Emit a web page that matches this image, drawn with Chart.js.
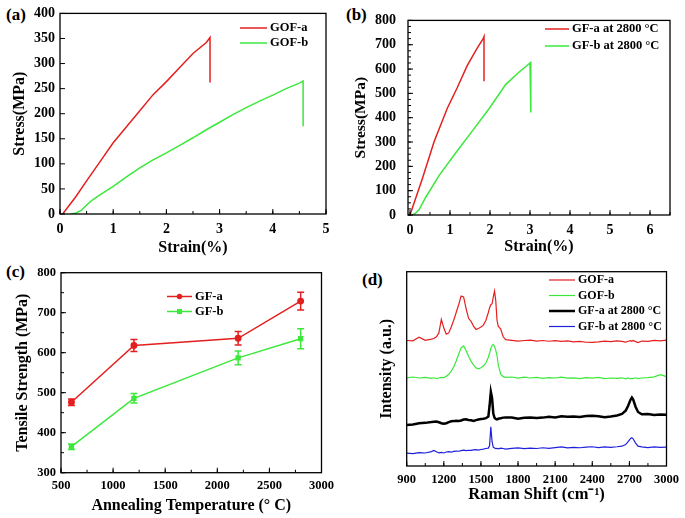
<!DOCTYPE html>
<html>
<head>
<meta charset="utf-8">
<script src="https://cdn.jsdelivr.net/npm/chart.js@4.4.1/dist/chart.umd.min.js"></script>
<style>
  body { margin: 0; background: #fff; width: 685px; height: 518px; position: relative; overflow: hidden; }
  canvas { position: absolute; }
  .tag { position: absolute; font: bold 17px "Liberation Serif", serif; color: #000; }
</style>
</head>
<body>

<div class="tag" style="left:6px;top:5px">(a)</div>
<div class="tag" style="left:346px;top:5px">(b)</div>
<div class="tag" style="left:6px;top:262px">(c)</div>
<div class="tag" style="left:362px;top:270px">(d)</div>

<canvas id="chartA" width="340" height="262" style="left:0;top:0"></canvas>
<canvas id="chartB" width="345" height="262" style="left:340px;top:0"></canvas>
<canvas id="chartC" width="340" height="263" style="left:0;top:255px"></canvas>
<canvas id="chartD" width="345" height="263" style="left:340px;top:255px"></canvas>

<script>
// ---------- (a) GO fibres ----------
const strainGofA = [0.05, 0.3, 0.5, 0.75, 1.0, 1.25, 1.5, 1.75, 2.0, 2.25, 2.5, 2.75, 2.82, 2.82];
const stressGofA = [0, 35, 66, 104, 142, 174, 206, 238, 264, 292, 320, 342, 352, 262];
const strainGofB = [0.2, 0.3, 0.4, 0.5, 0.6, 0.75, 1.0, 1.25, 1.5, 1.75, 2.0, 2.25, 2.5, 2.75, 3.0, 3.25, 3.5, 3.75, 4.0, 4.25, 4.5, 4.57, 4.57];
const stressGofB = [0, 2, 7, 18, 27, 38, 55, 74, 92, 108, 122, 137, 152, 168, 183, 198, 212, 225, 237, 250, 261, 265, 175];
const ticksStrainA = [0, 1, 2, 3, 4, 5];
const ticksStressA = [0, 50, 100, 150, 200, 250, 300, 350, 400];

// ---------- (b) GF at 2800 C ----------
const strainGfA = [0, 0.31, 0.6, 0.93, 1.18, 1.43, 1.68, 1.83, 1.85, 1.85];
const stressGfA = [0, 150, 300, 438, 523, 614, 686, 725, 733, 550];
const strainGfB = [0.05, 0.12, 0.23, 0.39, 0.73, 1.14, 1.56, 1.98, 2.39, 2.73, 3.0, 3.02, 3.02];
const stressGfB = [0, 5, 22, 72, 163, 255, 346, 438, 536, 588, 625, 631, 421];
const ticksStrainB = [0, 1, 2, 3, 4, 5, 6];
const ticksStressB = [0, 100, 200, 300, 400, 500, 600, 700, 800];

// ---------- (c) tensile strength vs annealing ----------
const annealTemp = [600, 1200, 2200, 2800];
const strengthGfA = [476, 618, 636, 729];
const errGfA = [8, 15, 17, 22];
const strengthGfB = [365, 486, 587, 635];
const errGfB = [7, 12, 17, 25];
const ticksTemp = [500, 1000, 1500, 2000, 2500, 3000];
const ticksStrength = [300, 400, 500, 600, 700, 800];

// ---------- (d) Raman ----------
const ramanShift = [900, 950, 1000, 1050, 1100, 1120, 1140, 1160, 1180, 1200, 1220, 1240, 1260, 1280, 1300, 1320, 1340, 1360, 1380, 1400, 1420, 1440, 1460, 1480, 1500, 1520, 1540, 1560, 1570, 1580, 1590, 1600, 1610, 1620, 1630, 1640, 1660, 1680, 1700, 1750, 1800, 1850, 1900, 1950, 2000, 2050, 2100, 2150, 2200, 2250, 2300, 2350, 2400, 2450, 2500, 2550, 2600, 2640, 2670, 2690, 2710, 2720, 2730, 2750, 2770, 2800, 2850, 2900, 2950, 3000];
const ramanGofA = [64.6, 64.4, 66.3, 64.7, 65.3, 65.6, 66.5, 68.5, 75.5, 71, 67.8, 68.5, 71.5, 75, 79, 83, 87.5, 87, 81, 76, 74.5, 72, 70.3, 70.8, 71.5, 72.5, 75, 79, 81.5, 83, 83.5, 87, 90, 85, 75, 72, 70.5, 66.5, 65, 64.7, 64.3, 64.6, 64.8, 64.3, 64.6, 64.2, 64.5, 64.1, 64.4, 63.9, 64.1, 63.7, 63.6, 63.9, 64.3, 64.0, 64.4, 64.1, 63.8, 64.2, 64.5, 64.2, 64.6, 64.0, 63.5, 64.3, 64.1, 64.7, 64.4, 64.8];
const ramanGofB = [45.4, 45.8, 45.3, 45.6, 45.1, 45.4, 45.0, 45.3, 45.6, 45.5, 46.2, 47.2, 48.8, 51, 54, 57.5, 60.8, 61.8, 59.5, 56.5, 54, 52, 50.5, 50, 50.6, 51.5, 53, 56, 58, 60.5, 62, 62.6, 61.5, 59.5, 57, 52, 47.3, 46, 45.6, 45.8, 45.2, 45.7, 45.3, 45.6, 45.1, 45.5, 45.3, 45.7, 45.2, 45.4, 45.0, 45.5, 45.2, 45.6, 45.0, 45.3, 45.1, 45.4, 44.9, 45.3, 44.8, 45.1, 45.0, 45.4, 45.0, 45.3, 45.5, 45.9, 47.0, 46.0];
const ramanGfA = [21.1, 21.4, 22.0, 22.2, 22.6, 22.8, 22.9, 22.5, 22.0, 21.7, 22.0, 22.6, 23.0, 23.1, 23.3, 23.2, 23.4, 23.9, 24.0, 23.7, 23.5, 23.2, 23.6, 23.9, 24.2, 24.3, 24.6, 25.5, 31, 38.2, 35, 27, 24.8, 24.2, 24.0, 24.3, 24.6, 24.9, 25.0, 24.9, 24.3, 24.8, 25.0, 24.7, 24.9, 25.3, 25.0, 25.6, 25.3, 25.5, 25.2, 25.7, 25.9, 25.6, 25.1, 25.5, 26.0, 26.8, 28.5, 31, 34.2, 35.2, 34.3, 30.5, 27.8, 26.6, 26.8, 26.3, 26.5, 26.4];
const ramanGfB = [6.6, 6.4, 6.9, 6.7, 7.4, 8.0, 7.3, 6.8, 7.0, 6.7, 7.2, 7.4, 7.1, 7.5, 7.7, 7.6, 7.9, 8.2, 7.9, 8.1, 8.0, 8.3, 8.4, 8.2, 8.5, 8.7, 9.0, 9.2, 10.5, 20.2, 12.5, 9.6, 9.3, 9.0, 9.1, 8.8, 9.2, 9.0, 8.7, 9.1, 9.3, 8.9, 9.2, 9.0, 9.4, 9.1, 9.5, 9.8, 9.3, 9.6, 9.4, 9.7, 9.9, 9.5, 9.8, 9.6, 9.9, 10.2, 11.0, 12.5, 14.2, 14.6, 14.0, 11.8, 10.2, 9.8, 9.5, 9.8, 9.6, 9.7];
const ticksShift = [900, 1200, 1500, 1800, 2100, 2400, 2700, 3000];

const RED = "#e3201f";
const GREEN = "#3ce83c";
const BLUE = "#2020dc";
const SERIF = '"Liberation Serif", "Times New Roman", serif';

Chart.defaults.font.family = SERIF;
Chart.defaults.color = "#000";

const pairs = (xs, ys) => xs.map((x, i) => ({ x: x, y: ys[i] }));


// =================== plugins ===================

// box round the plot + inward tick marks
const framePlugin = {
    id: "frame",
    afterDraw(chart, args, opts) {
        const { ctx, chartArea: a, scales } = chart;
        ctx.save();
        ctx.strokeStyle = "#000";
        ctx.lineWidth = 1.3;
        ctx.strokeRect(a.left, a.top, a.right - a.left, a.bottom - a.top);

        ctx.lineWidth = 1;
        ctx.beginPath();
        const tickX = (v, len) => {
            const px = scales.x.getPixelForValue(v);
            ctx.moveTo(px, a.bottom);
            ctx.lineTo(px, a.bottom - len);
        };
        const tickY = (v, len) => {
            const py = scales.y.getPixelForValue(v);
            ctx.moveTo(a.left, py);
            ctx.lineTo(a.left + len, py);
        };
        if (opts.xMinor) {
            const start = Math.ceil(scales.x.min / opts.xMinor) * opts.xMinor;
            for (let v = start; v <= scales.x.max; v += opts.xMinor) tickX(v, 3);
        }
        if (opts.yMinor) {
            for (let v = scales.y.min; v <= scales.y.max; v += opts.yMinor) tickY(v, 3);
        }
        scales.x.ticks.forEach(t => tickX(t.value, 5));
        if (opts.yMajor !== false) scales.y.ticks.forEach(t => tickY(t.value, 5));
        ctx.stroke();
        ctx.restore();
    }
};

// small legend drawn inside the plot box
const insideLegend = {
    id: "insideLegend",
    afterDraw(chart, args, opts) {
        const { ctx } = chart;
        ctx.save();
        ctx.font = opts.font;
        ctx.textBaseline = "middle";
        chart.data.datasets.forEach((ds, i) => {
            const y = opts.y + i * opts.rowH;
            ctx.strokeStyle = ds.borderColor;
            ctx.lineWidth = ds.borderWidth;
            ctx.beginPath();
            ctx.moveTo(opts.x, y);
            ctx.lineTo(opts.x + opts.len, y);
            ctx.stroke();
            if (ds.pointRadius) {
                ctx.fillStyle = ds.borderColor;
                const mx = opts.x + opts.len / 2;
                if (ds.pointStyle === "rect") {
                    ctx.fillRect(mx - 2.5, y - 2.5, 5, 5);
                } else {
                    ctx.beginPath();
                    ctx.arc(mx, y, 2.7, 0, Math.PI * 2);
                    ctx.fill();
                }
            }
            ctx.fillStyle = "#000";
            ctx.fillText(ds.label, opts.x + opts.len + 3, y);
        });
        ctx.restore();
    }
};

// vertical error bars with caps
const errorBars = {
    id: "errorBars",
    afterDatasetsDraw(chart) {
        const { ctx, scales } = chart;
        ctx.save();
        chart.data.datasets.forEach(ds => {
            if (!ds.errors) return;
            ctx.strokeStyle = ds.borderColor;
            ctx.lineWidth = 1.5;
            ds.data.forEach((p, i) => {
                const x = scales.x.getPixelForValue(p.x);
                const top = scales.y.getPixelForValue(p.y + ds.errors[i]);
                const bot = scales.y.getPixelForValue(p.y - ds.errors[i]);
                ctx.beginPath();
                ctx.moveTo(x, top); ctx.lineTo(x, bot);
                ctx.moveTo(x - 3.5, top); ctx.lineTo(x + 3.5, top);
                ctx.moveTo(x - 3.5, bot); ctx.lineTo(x + 3.5, bot);
                ctx.stroke();
            });
        });
        ctx.restore();
    }
};


// =================== shared scale builder ===================

function axis(cfg) {
    return {
        type: "linear",
        min: cfg.min,
        max: cfg.max,
        grid: { display: false, drawTicks: false },
        border: { display: false },
        ticks: {
            display: cfg.showTicks !== false,
            padding: cfg.tickPad,
            font: { size: cfg.tickSize, weight: "bold" },
            maxRotation: 0,
            autoSkip: false,
            callback: v => String(v)
        },
        afterBuildTicks: scale => {
            scale.ticks = (cfg.ticks || []).map(v => ({ value: v }));
        },
        afterFit: scale => {
            if (scale.isHorizontal()) scale.height = cfg.size;
            else scale.width = cfg.size;
        },
        title: {
            display: true,
            text: cfg.title,
            font: { size: cfg.titleSize, weight: "bold" },
            padding: cfg.titlePad
        }
    };
}

function lineSet(label, xs, ys, color, width) {
    return {
        label: label,
        data: pairs(xs, ys),
        borderColor: color,
        backgroundColor: color,
        borderWidth: width,
        pointRadius: 0,
        tension: 0
    };
}

const baseOptions = {
    responsive: false,
    animation: false,
    devicePixelRatio: 1,
    events: []
};


// =================== (a) ===================

new Chart(document.getElementById("chartA"), {
    type: "line",
    data: {
        datasets: [
            lineSet("GOF-a", strainGofA, stressGofA, RED, 1.5),
            lineSet("GOF-b", strainGofB, stressGofB, GREEN, 1.5)
        ]
    },
    options: {
        ...baseOptions,
        layout: { padding: { top: 10, right: 14, left: 0, bottom: 0 } },
        scales: {
            x: axis({ min: 0, max: 5, ticks: ticksStrainA, size: 48, tickPad: 7, tickSize: 14,
                      title: "Strain(%)", titleSize: 16, titlePad: { top: 0, bottom: 5 } }),
            y: axis({ min: 0, max: 400, ticks: ticksStressA, size: 60, tickPad: 5, tickSize: 14,
                      title: "Stress(MPa)", titleSize: 16, titlePad: { top: 10, bottom: 0 } })
        },
        plugins: {
            legend: { display: false },
            tooltip: { enabled: false },
            frame: { xMinor: 0.5 },
            insideLegend: { x: 240, y: 28, len: 27, rowH: 15, font: "bold 12.5px " + SERIF }
        }
    },
    plugins: [framePlugin, insideLegend]
});


// =================== (b) ===================

new Chart(document.getElementById("chartB"), {
    type: "line",
    data: {
        datasets: [
            lineSet("GF-a at 2800 °C", strainGfA, stressGfA, RED, 1.5),
            lineSet("GF-b at 2800 °C", strainGfB, stressGfB, GREEN, 1.5)
        ]
    },
    options: {
        ...baseOptions,
        layout: { padding: { top: 11, right: 15, left: 0, bottom: 0 } },
        scales: {
            x: axis({ min: -0.05, max: 6.5, ticks: ticksStrainB, size: 47, tickPad: 7, tickSize: 14,
                      title: "Strain(%)", titleSize: 16, titlePad: { top: 0, bottom: 6 } }),
            y: axis({ min: 0, max: 800, ticks: ticksStressB, size: 68, tickPad: 12, tickSize: 14,
                      title: "Stress(MPa)", titleSize: 15.5, titlePad: { top: 12, bottom: 0 } })
        },
        plugins: {
            legend: { display: false },
            tooltip: { enabled: false },
            frame: { xMinor: 0.5, yMinor: 25 },
            insideLegend: { x: 205, y: 29, len: 24, rowH: 17, font: "bold 12.5px " + SERIF }
        }
    },
    plugins: [framePlugin, insideLegend]
});


// =================== (c) ===================

new Chart(document.getElementById("chartC"), {
    type: "line",
    data: {
        datasets: [
            {
                label: "GF-a",
                data: pairs(annealTemp, strengthGfA),
                errors: errGfA,
                borderColor: RED,
                backgroundColor: RED,
                borderWidth: 1.5,
                pointRadius: 2.7,
                pointStyle: "circle",
                tension: 0
            },
            {
                label: "GF-b",
                data: pairs(annealTemp, strengthGfB),
                errors: errGfB,
                borderColor: GREEN,
                backgroundColor: GREEN,
                borderWidth: 1.5,
                pointRadius: 2.7,
                pointStyle: "rect",
                tension: 0
            }
        ]
    },
    options: {
        ...baseOptions,
        layout: { padding: { top: 17.7, right: 8.3, left: 0, bottom: 0 } },
        scales: {
            x: axis({ min: 500, max: 3000, ticks: ticksTemp, size: 45.3, tickPad: 6, tickSize: 12.5,
                      title: "Annealing Temperature (° C)", titleSize: 16, titlePad: { top: 0, bottom: 3 } }),
            y: axis({ min: 300, max: 800, ticks: ticksStrength, size: 61, tickPad: 5, tickSize: 12.5,
                      title: "Tensile Strength (MPa)", titleSize: 16, titlePad: { top: 13, bottom: 0 } })
        },
        plugins: {
            legend: { display: false },
            tooltip: { enabled: false },
            frame: { xMinor: 250, yMinor: 50 },
            insideLegend: { x: 167, y: 41.5, len: 25, rowH: 15, font: "bold 12.5px " + SERIF }
        }
    },
    plugins: [framePlugin, errorBars, insideLegend]
});


// =================== (d) ===================

new Chart(document.getElementById("chartD"), {
    type: "line",
    data: {
        datasets: [
            lineSet("GOF-a", ramanShift, ramanGofA, RED, 1.2),
            lineSet("GOF-b", ramanShift, ramanGofB, GREEN, 1.2),
            lineSet("GF-a at 2800 °C", ramanShift, ramanGfA, "#000", 2.5),
            lineSet("GF-b at 2800 °C", ramanShift, ramanGfB, BLUE, 1.2)
        ]
    },
    options: {
        ...baseOptions,
        layout: { padding: { top: 16.7, right: 16, left: 0, bottom: 0 } },
        scales: {
            x: axis({ min: 900, max: 3000, ticks: ticksShift, size: 52, tickPad: 6, tickSize: 12.5,
                      title: "Raman Shift (cm⁻¹)", titleSize: 16.5, titlePad: { top: 0, bottom: 13 } }),
            y: axis({ min: 0, max: 100, ticks: [], size: 66.7, showTicks: false, tickPad: 0, tickSize: 12,
                      title: "Intensity (a.u.)", titleSize: 16, titlePad: { top: 37, bottom: 0 } })
        },
        plugins: {
            legend: { display: false },
            tooltip: { enabled: false },
            frame: { xMinor: 150, yMajor: false },
            insideLegend: { x: 209, y: 25, len: 26, rowH: 15.5, font: "bold 12px " + SERIF }
        }
    },
    plugins: [framePlugin, insideLegend]
});
</script>
</body>
</html>
